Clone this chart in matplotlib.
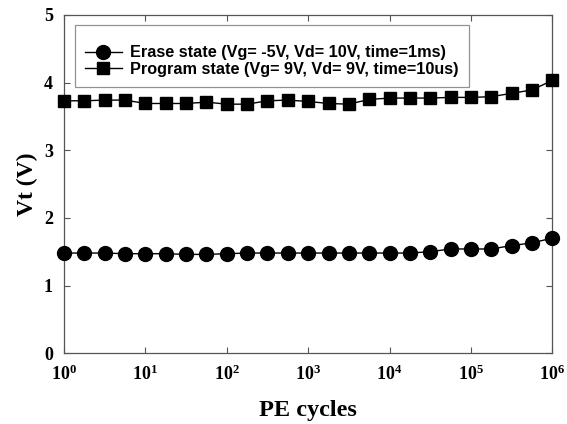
import numpy as np
import matplotlib
matplotlib.use('Agg')
import matplotlib.pyplot as plt
import matplotlib.ticker as ticker

# PE cycles, 4 points per decade
cycles = [1, 1.78, 3.16, 5.62, 10, 17.8, 31.6, 56.2, 100, 178, 316, 562,
          1e3, 1.78e3, 3.16e3, 5.62e3, 1e4, 1.78e4, 3.16e4, 5.62e4,
          1e5, 1.78e5, 3.16e5, 5.62e5, 1e6]
erase_vt = [1.48, 1.48, 1.48, 1.47, 1.47, 1.47, 1.46, 1.46, 1.47, 1.48, 1.48, 1.48,
            1.48, 1.48, 1.48, 1.48, 1.48, 1.48, 1.50, 1.54, 1.54, 1.54, 1.59, 1.63, 1.70]
program_vt = [3.73, 3.73, 3.74, 3.74, 3.69, 3.69, 3.69, 3.71, 3.68, 3.68, 3.73, 3.74,
              3.72, 3.69, 3.68, 3.75, 3.77, 3.77, 3.77, 3.78, 3.78, 3.79, 3.84, 3.89, 4.03]

erase_label = 'Erase state (Vg= -5V, Vd= 10V, time=1ms)'
program_label = 'Program state (Vg= 9V, Vd= 9V, time=10us)'

fig = plt.figure(figsize=(5.67, 4.24), dpi=100)
ax = fig.add_axes([0.113, 0.167, 0.861, 0.798])

ax.plot(cycles, erase_vt, color='black', marker='o', markersize=10, linewidth=1,
        label=erase_label, clip_on=False, zorder=3)
ax.plot(cycles, program_vt, color='black', marker='s', markersize=9, linewidth=1,
        label=program_label, clip_on=False, zorder=3)

ax.set_xscale('log')
ax.set_xlim(1, 1e6)
ax.set_ylim(0, 5)
ax.xaxis.set_major_locator(ticker.LogLocator(base=10, numticks=10))
ax.xaxis.set_minor_locator(ticker.NullLocator())
ax.yaxis.set_major_locator(ticker.MultipleLocator(1))

ax.tick_params(direction='in', top=True, right=True, length=4, width=0.8,
               color='#555555', pad=8)
for s in ax.spines.values():
    s.set_color('#555555')
    s.set_linewidth(0.9)

for lab in ax.get_xticklabels() + ax.get_yticklabels():
    lab.set_fontfamily('Liberation Serif')
    lab.set_fontweight('bold')
    lab.set_fontsize(13)

ax.set_xlabel('PE cycles', fontfamily='Liberation Serif', fontweight='bold',
              fontsize=17.5, labelpad=12)
ax.set_ylabel('Vt (V)', fontfamily='Liberation Serif', fontweight='bold',
              fontsize=17, labelpad=4)

# blank small title gives the extra room above the first row, as in the original
leg = ax.legend(loc='upper left', bbox_to_anchor=(0.0225, 0.97), borderaxespad=0,
                fancybox=False, title=' ', title_fontsize=6,
                prop={'family': 'Liberation Sans', 'weight': 'bold', 'size': 11.7},
                handlelength=2.3, borderpad=0.6, labelspacing=0.1, handletextpad=0.5)
leg.get_frame().set_edgecolor('#777777')
leg.get_frame().set_linewidth(0.9)

fig.savefig('out.png', dpi=100)
